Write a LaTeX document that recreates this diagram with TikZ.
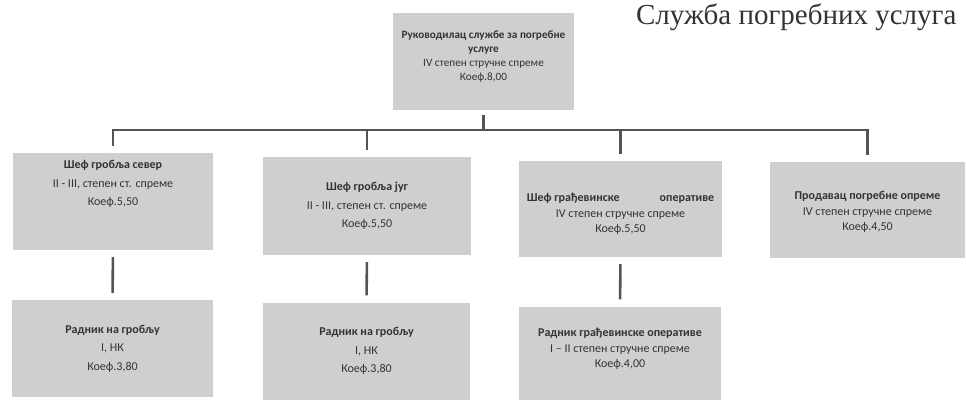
\documentclass[tikz,border=0pt]{standalone}
\usepackage{fontspec}
\setmainfont{Carlito}
\newfontfamily\titlefont{Liberation Serif}
\definecolor{cfcfcf}{rgb}{0.81,0.81,0.81}
\definecolor{qqqqqq}{rgb}{0.2,0.2,0.2}
\definecolor{sstttt}{rgb}{0.33,0.33,0.33}

\begin{document}
\begin{tikzpicture}[x=1pt,y=-1pt,
  box/.style={fill=cfcfcf,draw=none,inner sep=0pt,align=center,text=qqqqqq,
    font=\fontsize{12}{18.5}\selectfont},
  boxsmall/.style={box,font=\fontsize{12}{15.5}\selectfont},
  link/.style={line width=2.6pt,color=sstttt}]
\useasboundingbox (0,0) rectangle (966,399);
\node[anchor=base east,font=\titlefont\fontsize{29}{29}\selectfont,text=qqqqqq] (title) at (960,24) {Служба погребних услуга};
\node[box,minimum width=181,minimum height=97,font=\fontsize{11.2}{14}\selectfont] (top) at (483.5,61.5) {\textbf{Руководилац службе за погребне}\\ \textbf{услуге}\\ IV степен стручне спреме\\ Коеф.8,00\\[-2pt]~};
\node[box,minimum width=200,minimum height=97] (b1) at (113,201.5) {\textbf{Шеф гробља север}\\ II - III, степен ст. спреме\\ Коеф.5,50\\[18pt]~};
\node[box,minimum width=208,minimum height=98] (b2) at (367,206) {\textbf{Шеф гробља југ}\\ II - III, степен ст. спреме\\ Коеф.5,50};
\node[boxsmall,minimum width=203,minimum height=96] (b3) at (620.5,209) {~\\[2.5pt]\textbf{Шеф грађевинске}\hspace{40pt}\textbf{оперативе}\\ IV степен стручне спреме\\ Коеф.5,50};
\node[boxsmall,minimum width=195,minimum height=96] (b4) at (867.5,210) {~\\[-3.5pt]\textbf{Продавац погребне опреме}\\ IV степен стручне спреме\\ Коеф.4,50};
\node[box,minimum width=201,minimum height=97] (c1) at (112.5,348.5) {\textbf{Радник на гробљу}\\ I, НК\\ Коеф.3,80};
\node[box,minimum width=207,minimum height=97] (c2) at (366.5,351) {\textbf{Радник на гробљу}\\ I, НК\\ Коеф.3,80};
\node[boxsmall,minimum width=202,minimum height=97] (c3) at (620,355) {\textbf{Радник грађевинске оперативе}\\ I -- II степен стручне спреме\\ Коеф.4,00\\[-2pt]~};
\coordinate (bar) at (0,130);
\draw[link,shorten <=5pt] (top.south) -- (top.south |- bar);
\draw[link,line cap=rect] (b1.north |- bar) -- (b4.north |- bar);
\foreach \n in {b1,b2,b3,b4}
  \draw[link,shorten >=7pt] (\n.north |- bar) -- (\n.north);
\foreach \u/\l in {b1/c1,b2/c2,b3/c3}
  \draw[link,shorten <=7pt,shorten >=7pt] (\u.south) -- (\l.north);
\end{tikzpicture}
\end{document}
